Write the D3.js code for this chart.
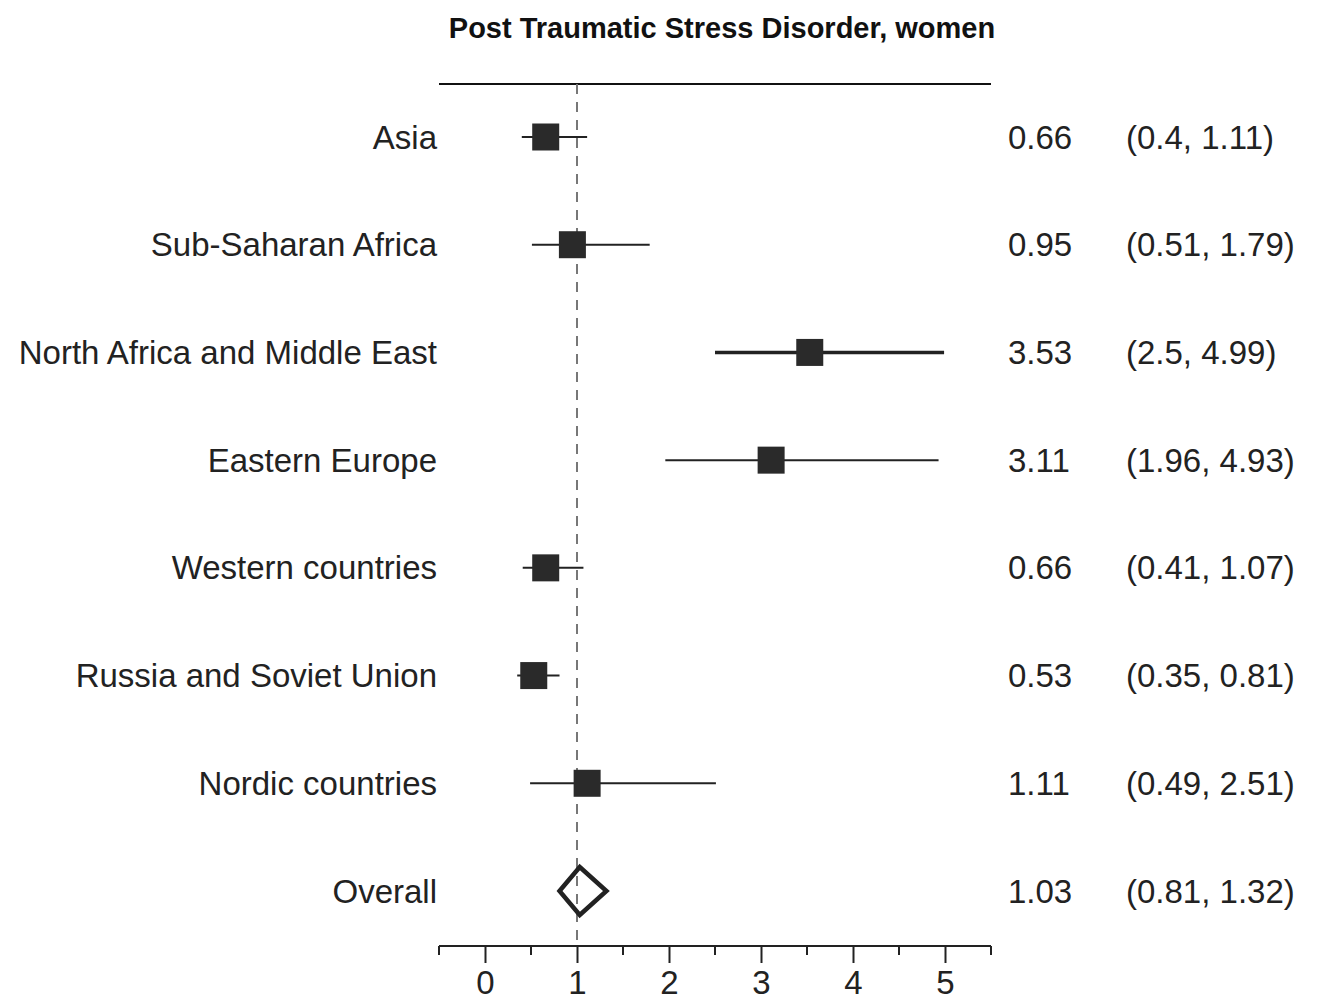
<!DOCTYPE html>
<html><head><meta charset="utf-8">
<script src="https://cdn.jsdelivr.net/npm/d3@7"></script>
<style>body{margin:0;background:#fff;}svg{display:block;}</style>
</head><body>
<svg id="c" width="1328" height="1002"></svg>
<script>
const categories = ["Asia","Sub-Saharan Africa","North Africa and Middle East","Eastern Europe","Western countries","Russia and Soviet Union","Nordic countries","Overall"];
const estimates = [0.66,0.95,3.53,3.11,0.66,0.53,1.11,1.03];
const lowers = [0.4,0.51,2.5,1.96,0.41,0.35,0.49,0.81];
const uppers = [1.11,1.79,4.99,4.93,1.07,0.81,2.51,1.32];
const estLabels = ["0.66","0.95","3.53","3.11","0.66","0.53","1.11","1.03"];
const ciLabels = ["(0.4, 1.11)","(0.51, 1.79)","(2.5, 4.99)","(1.96, 4.93)","(0.41, 1.07)","(0.35, 0.81)","(0.49, 2.51)","(0.81, 1.32)"];
const lineWeights = [2,2,3.5,2,2,2,2,0];
const majorTicks = [0,1,2,3,4,5];
const minorTicks = [-0.5,0.5,1.5,2.5,3.5,4.5,5.5];
const title = "Post Traumatic Stress Disorder, women";

const svg = d3.select("#c");
const font = "Arial, 'Liberation Sans', sans-serif";
const ink = "#222";
const x = d3.scaleLinear().domain([-0.5,5.5]).range([439,991]);
const y = d3.scalePoint().domain(categories).range([137,891]);
const topY = 84, axisY = 946;

svg.append("text").attr("x",722).attr("y",38).attr("text-anchor","middle")
  .attr("font-family",font).attr("font-weight","bold").attr("font-size",29).attr("fill","#111").text(title);

svg.append("line").attr("x1",x(-0.5)).attr("x2",x(5.5)).attr("y1",topY).attr("y2",topY)
  .attr("stroke","#111").attr("stroke-width",2);

svg.append("line").attr("x1",x(1)).attr("x2",x(1)).attr("y1",topY).attr("y2",axisY)
  .attr("stroke","#777").attr("stroke-width",2).attr("stroke-dasharray","10,8");

// axis
const axisG = svg.append("g").attr("transform",`translate(0,${axisY})`);
axisG.call(d3.axisBottom(x).tickValues(majorTicks).tickSize(17).tickPadding(8).tickFormat(d3.format("d")));
axisG.select(".domain").remove();
axisG.selectAll(".tick line").attr("stroke",ink).attr("stroke-width",2);
axisG.selectAll(".tick text").attr("font-family",font).attr("font-size",33).attr("fill",ink);
axisG.append("line").attr("x1",x(-0.5)).attr("x2",x(5.5)).attr("stroke",ink).attr("stroke-width",2);
axisG.selectAll(".minor").data(minorTicks).join("line").attr("class","minor")
  .attr("x1",d=>x(d)).attr("x2",d=>x(d)).attr("y1",0).attr("y2",9).attr("stroke",ink).attr("stroke-width",2);

const rows = categories.map((c,i)=>({c,est:estimates[i],lo:lowers[i],hi:uppers[i],el:estLabels[i],cl:ciLabels[i],w:lineWeights[i],overall:i===categories.length-1}));

const g = svg.append("g");
g.selectAll(".ci").data(rows.filter(d=>!d.overall)).join("line")
  .attr("x1",d=>x(d.lo)).attr("x2",d=>x(d.hi)).attr("y1",d=>y(d.c)).attr("y2",d=>y(d.c))
  .attr("stroke",ink).attr("stroke-width",d=>d.w);
const bs = 27;
g.selectAll(".box").data(rows.filter(d=>!d.overall)).join("rect")
  .attr("x",d=>x(d.est)-bs/2).attr("y",d=>y(d.c)-bs/2).attr("width",bs).attr("height",bs).attr("fill","#2a2a2a");
const ov = rows[rows.length-1];
const dh = 24;
g.append("path").attr("d",`M${x(ov.lo)},${y(ov.c)} L${x(ov.est)},${y(ov.c)-dh} L${x(ov.hi)},${y(ov.c)} L${x(ov.est)},${y(ov.c)+dh} Z`)
  .attr("fill","none").attr("stroke","#222").attr("stroke-width",4.5).attr("stroke-linejoin","miter");

const tg = svg.append("g").attr("font-family",font).attr("font-size",33).attr("fill",ink);
tg.selectAll(".lab").data(rows).join("text").attr("x",437).attr("y",d=>y(d.c)).attr("dy","0.35em")
  .attr("text-anchor","end").text(d=>d.c);
tg.selectAll(".est").data(rows).join("text").attr("x",1008).attr("y",d=>y(d.c)).attr("dy","0.35em").text(d=>d.el);
tg.selectAll(".cil").data(rows).join("text").attr("x",1126).attr("y",d=>y(d.c)).attr("dy","0.35em").text(d=>d.cl);
</script>
</body></html>
